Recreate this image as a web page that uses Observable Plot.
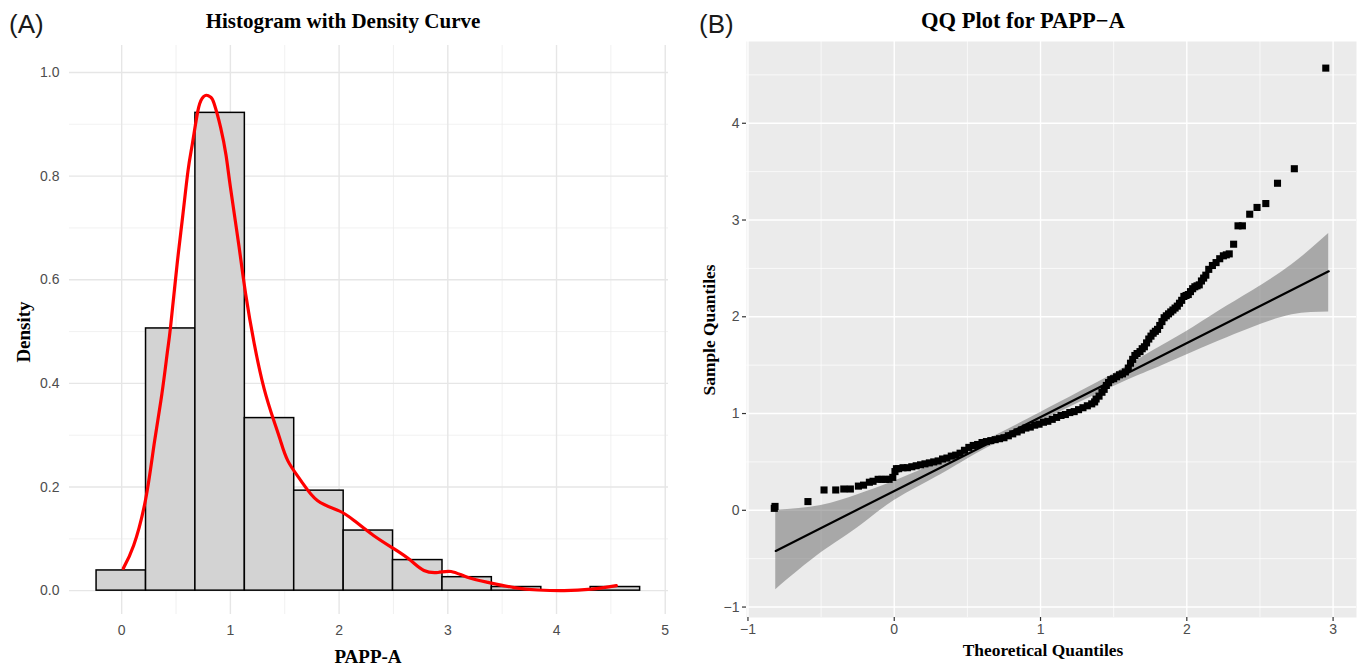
<!DOCTYPE html>
<html><head><meta charset="utf-8">
<script src="https://cdn.jsdelivr.net/npm/d3@7"></script>
<script src="https://cdn.jsdelivr.net/npm/@observablehq/plot@0.6"></script>
<style>
body{margin:0;background:#fff;}
#fig{position:relative;width:1357px;height:667px;overflow:hidden;background:#fff;}
.t{position:absolute;white-space:nowrap;line-height:1;}
.sans{font-family:"Liberation Sans",Arial,sans-serif;color:#1a1a1a;}
.serif{font-family:"Liberation Serif","Times New Roman",serif;font-weight:bold;color:#000;}
.rot{transform:translate(-50%,-50%) rotate(-90deg);}
.panel{position:absolute;top:0;}
.panel svg text{font-size:14px;}
</style></head><body>
<div id="fig">
  <div id="left" class="panel" style="left:0"></div>
  <div id="right" class="panel" style="left:680px"></div>
  <div class="t sans" style="left:9px;top:11px;font-size:26px">(A)</div>
  <div class="t sans" style="left:699px;top:11px;font-size:26px">(B)</div>
  <div class="t serif" style="left:0;width:686px;text-align:center;top:10.7px;font-size:21px">Histogram with Density Curve</div>
  <div class="t serif" style="left:680px;width:686px;text-align:center;top:9.5px;font-size:22.5px">QQ Plot for PAPP−A</div>
  <div class="t serif" style="left:268px;width:200px;text-align:center;top:647px;font-size:19px">PAPP-A</div>
  <div class="t serif" style="left:943px;width:200px;text-align:center;top:642.4px;font-size:17.4px">Theoretical Quantiles</div>
  <div class="t serif rot" style="left:23px;top:332px;font-size:19px">Density</div>
  <div class="t serif rot" style="left:710px;top:330px;font-size:17.4px">Sample Quantiles</div>
</div>
<script>
// ---------- Panel A: histogram ----------
const binStart   = [-0.231, 0.224, 0.678, 1.133, 1.587, 2.042, 2.496, 2.951, 3.405, 3.860, 4.314];
const binEnd     = [ 0.224, 0.678, 1.133, 1.587, 2.042, 2.496, 2.951, 3.405, 3.860, 4.314, 4.769];
const binDensity = [ 0.039, 0.506, 0.922, 0.333, 0.193, 0.116, 0.059, 0.026, 0.007, 0.000, 0.007];

const densX = [0.015,0.11,0.22,0.30,0.37,0.42,0.45,0.51,0.56,0.61,0.65,0.70,0.74,0.78,0.82,0.85,0.91,0.96,1.00,1.08,1.14,1.22,1.31,1.40,1.46,1.53,1.65,1.80,2.00,2.14,2.32,2.51,2.66,2.78,2.91,3.03,3.18,3.37,3.61,3.83,4.07,4.32,4.55];
const densY = [0.043,0.087,0.176,0.285,0.38,0.46,0.51,0.63,0.72,0.81,0.862,0.925,0.950,0.956,0.952,0.940,0.894,0.84,0.779,0.663,0.573,0.476,0.39,0.328,0.29,0.25,0.212,0.174,0.154,0.135,0.106,0.080,0.058,0.039,0.035,0.037,0.026,0.016,0.006,0.0013,0.0,0.003,0.0097];

const histXTicks = [0,1,2,3,4,5];
const histXTickLabels = ["0","1","2","3","4","5"];
const histXMinor = [0.5,1.5,2.5,3.5,4.5];
const histYTicks = [0,0.2,0.4,0.6,0.8,1.0];
const histYTickLabels = ["0.0","0.2","0.4","0.6","0.8","1.0"];
const histYMinor = [0.1,0.3,0.5,0.7,0.9];

// ---------- Panel B: QQ plot ----------
const qqTheoretical = [-0.82,-0.815,-0.59,-0.48,-0.40,-0.345,-0.30,-0.245,-0.21,-0.17,-0.145,-0.11,-0.085,-0.06,-0.035,-0.01,0.005,0.015,
 0.03,0.06,0.09,0.12,0.15,0.18,0.21,0.24,0.27,0.30,0.33,0.36,0.39,0.42,0.45,0.48,0.51,0.54,0.57,0.60,0.63,0.66,0.69,0.72,0.75,0.78,0.81,0.84,0.87,0.90,0.93,0.96,0.99,1.02,1.05,1.08,1.11,1.14,1.17,1.20,1.23,1.26,1.29,1.32,
 1.35,1.37,1.38,1.40,1.42,1.435,1.45,1.465,1.48,1.50,1.52,1.54,1.56,1.58,1.60,1.615,1.63,1.645,1.66,1.68,1.695,1.71,1.725,1.74,1.755,1.77,1.785,1.80,1.815,1.83,1.845,1.86,1.875,1.89,1.905,1.92,1.935,1.95,1.965,1.98,1.995,2.01,2.025,2.04,2.055,2.07,2.085,2.10,2.115,2.13,2.15,2.175,2.20,2.225,2.25,2.27,2.29,2.32,2.35,2.38,2.43,2.48,2.54,2.62,2.735,2.95];
const qqSample = [0.02,0.04,0.09,0.21,0.21,0.22,0.22,0.25,0.26,0.29,0.30,0.32,0.32,0.32,0.32,0.34,0.40,0.43,
 0.43,0.44,0.44,0.45,0.46,0.47,0.48,0.49,0.50,0.51,0.53,0.54,0.56,0.57,0.59,0.62,0.65,0.67,0.68,0.70,0.71,0.72,0.73,0.74,0.75,0.77,0.79,0.81,0.83,0.85,0.86,0.88,0.89,0.91,0.92,0.94,0.96,0.98,0.99,1.01,1.02,1.04,1.06,1.08,
 1.10,1.12,1.15,1.18,1.22,1.25,1.29,1.32,1.35,1.36,1.38,1.40,1.41,1.43,1.47,1.52,1.56,1.60,1.62,1.64,1.67,1.69,1.73,1.77,1.80,1.83,1.85,1.87,1.91,1.95,1.99,2.01,2.03,2.05,2.07,2.09,2.11,2.14,2.17,2.21,2.22,2.23,2.26,2.29,2.31,2.32,2.33,2.37,2.40,2.43,2.49,2.53,2.56,2.60,2.63,2.64,2.65,2.75,2.94,2.94,3.06,3.13,3.17,3.38,3.53,4.57];

const bandX     = [-0.81,-0.50,-0.25,0.00,0.32,0.60,1.00,1.50,1.76,1.99,2.22,2.45,2.72,2.97];
const bandLower = [-0.82,-0.44,-0.18,0.10,0.37,0.615,0.92,1.28,1.45,1.60,1.75,1.89,2.02,2.05];
const bandUpper = [ 0.00, 0.05, 0.16,0.30,0.51,0.705,1.01,1.41,1.64,1.84,2.06,2.27,2.54,2.86];

const lineX = [-0.81, 2.97];
const lineY = [-0.42, 2.47];

const qqXTicks = [-1,0,1,2,3];
const qqXTickLabels = ["−1","0","1","2","3"];
const qqXMinor = [-0.5,0.5,1.5,2.5];
const qqYTicks = [-1,0,1,2,3,4];
const qqYTickLabels = ["−1","0","1","2","3","4"];
const qqYMinor = [-0.5,0.5,1.5,2.5,3.5,4.5];

// ---------- build tables ----------
const bins = binStart.map((s,i)=>({x1:s, x2:binEnd[i], y1:0, y2:binDensity[i]}));
const dens = densX.map((x,i)=>({x, y:densY[i]}));
const qq = qqTheoretical.map((x,i)=>({x, y:qqSample[i]}));
const band = bandX.map((x,i)=>({x, lo:bandLower[i], hi:bandUpper[i]}));
const qqLine = lineX.map((x,i)=>({x, y:lineY[i]}));

const baseStyle = {fontFamily:'"Liberation Sans", Arial, sans-serif', fontSize:"14px", color:"#4D4D4D", background:"transparent", overflow:"visible"};

const left = Plot.plot({
  width:680, height:667,
  marginLeft:69, marginRight:12, marginTop:45, marginBottom:53,
  x:{domain:[-0.48,5.03], axis:null},
  y:{domain:[-0.046,1.052], axis:null},
  style:baseStyle,
  marks:[
    Plot.ruleX(histXMinor,{stroke:"#EBEBEB", strokeWidth:0.7}),
    Plot.ruleY(histYMinor,{stroke:"#EBEBEB", strokeWidth:0.7}),
    Plot.ruleX(histXTicks,{stroke:"#E6E6E6", strokeWidth:1.4}),
    Plot.ruleY(histYTicks,{stroke:"#E6E6E6", strokeWidth:1.4}),
    Plot.rect(bins,{x1:"x1", x2:"x2", y1:"y1", y2:"y2", fill:"#D3D3D3", stroke:"#000", strokeWidth:1.5, inset:0}),
    Plot.line(dens,{x:"x", y:"y", stroke:"#FF0000", strokeWidth:3.2, curve:"natural"}),
    Plot.axisX(histXTicks,{tickSize:0, tickPadding:11, tickFormat:(d,i)=>histXTickLabels[i], label:null, fill:"#4D4D4D", fontSize:14}),
    Plot.axisY(histYTicks,{tickSize:0, tickPadding:10, tickFormat:(d,i)=>histYTickLabels[i], label:null, fill:"#4D4D4D", fontSize:14})
  ]
});
document.getElementById("left").appendChild(left);

const right = Plot.plot({
  width:677, height:667,
  marginLeft:66, marginRight:1, marginTop:41, marginBottom:50,
  x:{domain:[-1.01,3.16], axis:null},
  y:{domain:[-1.108,4.845], axis:null},
  style:baseStyle,
  marks:[
    Plot.frame({fill:"#EBEBEB", stroke:null}),
    Plot.ruleX(qqXMinor,{stroke:"#fff", strokeWidth:0.7}),
    Plot.ruleY(qqYMinor,{stroke:"#fff", strokeWidth:0.7}),
    Plot.ruleX(qqXTicks,{stroke:"#fff", strokeWidth:1.4}),
    Plot.ruleY(qqYTicks,{stroke:"#fff", strokeWidth:1.4}),
    Plot.areaY(band,{x:"x", y1:"lo", y2:"hi", fill:"#666", fillOpacity:0.5, curve:"natural"}),
    Plot.line(qqLine,{x:"x", y:"y", stroke:"#000", strokeWidth:2.2}),
    Plot.dot(qq,{x:"x", y:"y", symbol:"square", r:4, fill:"#000", stroke:null}),
    Plot.axisX(qqXTicks,{tickSize:4, tickPadding:3, stroke:"#333", strokeWidth:1.2, tickFormat:(d,i)=>qqXTickLabels[i], label:null, fill:"#4D4D4D", fontSize:14}),
    Plot.axisY(qqYTicks,{tickSize:4, tickPadding:3, stroke:"#333", strokeWidth:1.2, tickFormat:(d,i)=>qqYTickLabels[i], label:null, fill:"#4D4D4D", fontSize:14})
  ]
});
document.getElementById("right").appendChild(right);
</script>
</body></html>
